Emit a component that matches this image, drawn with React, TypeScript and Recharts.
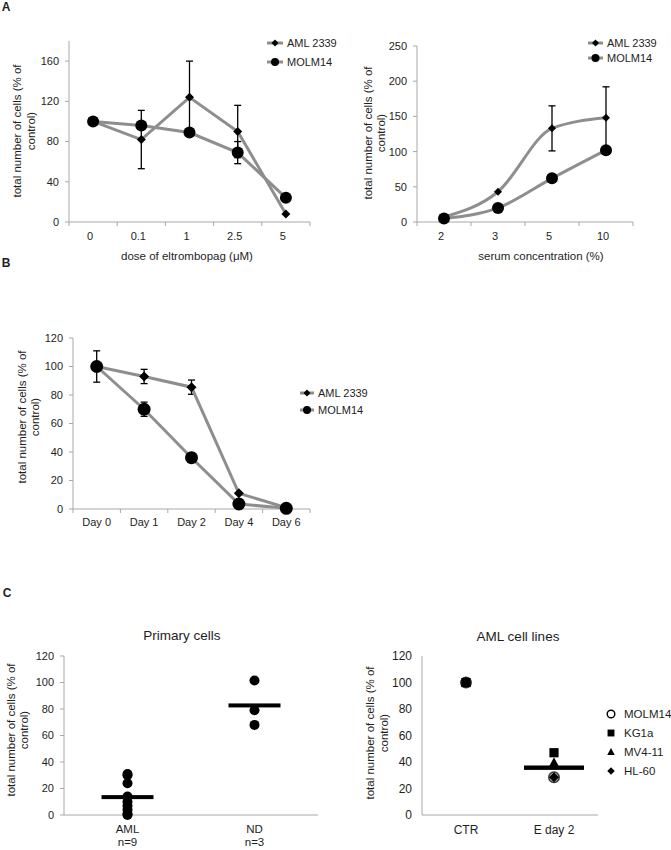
import React from "react";
import {
  LineChart,
  Line,
  XAxis,
  YAxis,
  ErrorBar,
  Legend,
  ScatterChart,
  Scatter,
} from "recharts";

const FONT = "'Liberation Sans', Arial, sans-serif";
const GREY = "#8e8e8e";
const AXIS = "#a8a8a8";
const INK = "#1e1e1e";

// A (left) - dose of eltrombopag
const doseLabels = ["0", "0.1", "1", "2.5", "5"];
const doseAml = [100, 82, 124, 90, 8];
const doseAmlErr = [0, 29, 36, 26, 0];
const doseMolm = [100, 96, 89, 69, 24];
const doseMolmErr = [0, 0, 0, 11, 0];

// A (right) - serum concentration
const serumLabels = ["2", "3", "5", "10"];
const serumAml = [7, 43, 133, 148];
const serumAmlErr = [0, 0, 32, 44];
const serumMolm = [5, 20, 62, 102];

// B - time course
const dayLabels = ["Day 0", "Day 1", "Day 2", "Day 4", "Day 6"];
const dayAml = [100, 93, 85.5, 11, 1];
const dayAmlErr = [11, 5, 5, 0, 0];
const dayMolm = [100, 70, 36, 3.5, 0.5];
const dayMolmErr = [0, 5, 0, 0, 0];

const lineSeries = ["AML 2339", "MOLM14"];

// C (left) - primary cells
const primaryGroups = ["AML", "ND"];
const primaryN = ["n=9", "n=3"];
const primaryAml = [31, 30, 24, 14, 10, 7, 4, 1, 0];
const primaryNd = [101.5, 79, 68];
const primaryMeans = [13.5, 82.7];

// C (right) - AML cell lines
const cellGroups = ["CTR", "E day 2"];
const cellLines = ["MOLM14", "KG1a", "MV4-11", "HL-60"];
const molm14 = [100, 28.5];
const kg1a = [100, 47];
const mv411 = [100, 39.5];
const hl60 = [100, 28.5];
const cellLineMean = 35.7;

const buildRows = (labels: string[], cols: Record<string, number[]>) =>
  labels.map((label, i) => {
    const row: Record<string, any> = { x: i + 0.5, label };
    Object.keys(cols).forEach((k) => (row[k] = cols[k][i]));
    return row;
  });

const halfTicks = (n: number) =>
  Array.from({ length: 2 * n + 1 }, (_, i) => i / 2);

const doseRows = buildRows(doseLabels, {
  aml: doseAml,
  amlErr: doseAmlErr,
  molm: doseMolm,
  molmErr: doseMolmErr,
});
const serumRows = buildRows(serumLabels, {
  aml: serumAml,
  amlErr: serumAmlErr,
  molm: serumMolm,
});
const dayRows = buildRows(dayLabels, {
  aml: dayAml,
  amlErr: dayAmlErr,
  molm: dayMolm,
  molmErr: dayMolmErr,
});

const groupPoints = (gi: number, vals: number[]) =>
  vals.map((y) => ({ x: gi + 0.5, y }));

// category labels sit between tick marks, like the original spreadsheet
const catTick =
  (labels: string[], sub: string[] | null, marks: boolean, dy: number, size = 11, dx = 0) =>
  (p: any) => {
    const v = p.payload.value;
    if (Number.isInteger(v)) {
      return marks ? (
        <line x1={p.x} x2={p.x} y1={p.y} y2={p.y + 4} stroke={AXIS} />
      ) : (
        <g />
      );
    }
    const i = Math.floor(v);
    const x = p.x + dx;
    return (
      <text
        x={x}
        y={p.y + dy}
        textAnchor="middle"
        fontSize={size}
        fill={INK}
        fontFamily={FONT}
      >
        <tspan x={x}>{labels[i]}</tspan>
        {sub && (
          <tspan x={x} dy={13}>
            {sub[i]}
          </tspan>
        )}
      </text>
    );
  };

const diamondPath = (cx: number, cy: number, s: number) =>
  `M${cx},${cy - s} L${cx + s},${cy} L${cx},${cy + s} L${cx - s},${cy} Z`;

const diamondDot = (s: number) => (p: any) =>
  <path key={`d${p.index}`} d={diamondPath(p.cx, p.cy, s)} fill="#000" />;

const circleDot = (r: number) => (p: any) =>
  <circle key={`c${p.index}`} cx={p.cx} cy={p.cy} r={r} fill="#000" />;

const yAxisProps = {
  width: 30,
  tickSize: 4,
  tickMargin: 6,
  stroke: AXIS,
  tick: { fontSize: 11, fill: INK, fontFamily: FONT },
  interval: 0 as const,
};

const LineLegend = ({ gap, lineW }: { gap: number; lineW: number }) => (
  <div style={{ fontFamily: FONT, fontSize: 11, color: INK, whiteSpace: "nowrap" }}>
    {lineSeries.map((name, i) => (
      <div
        key={name}
        style={{ display: "flex", alignItems: "center", height: gap }}
      >
        <svg width={lineW} height={12} style={{ marginRight: 4, flex: "none" }}>
          <line x1={0} x2={lineW} y1={6} y2={6} stroke={GREY} strokeWidth={3} />
          {i === 0 ? (
            <path d={diamondPath(lineW / 2, 6, 3.5)} fill="#000" />
          ) : (
            <circle cx={lineW / 2} cy={6} r={4} fill="#000" />
          )}
        </svg>
        <span>{name}</span>
      </div>
    ))}
  </div>
);

const marker = (name: string, cx: number, cy: number, k = 1) => {
  switch (name) {
    case "MOLM14":
      return (
        <circle cx={cx} cy={cy} r={5.2 * k} fill="#bdbdbd" stroke="#333" strokeWidth={1.5} />
      );
    case "KG1a":
      return <rect x={cx - 4.6 * k} y={cy - 4.6 * k} width={9.2 * k} height={9.2 * k} fill="#000" />;
    case "MV4-11":
      return (
        <path
          d={`M${cx},${cy - 5.5 * k} L${cx + 5 * k},${cy + 4 * k} L${cx - 5 * k},${cy + 4 * k} Z`}
          fill="#000"
        />
      );
    default:
      return <path d={diamondPath(cx, cy, 5 * k)} fill="#000" />;
  }
};

const CellLegend = () => (
  <div style={{ fontFamily: FONT, fontSize: 11.5, color: INK, whiteSpace: "nowrap" }}>
    {cellLines.map((name) => (
      <div key={name} style={{ display: "flex", alignItems: "center", height: 19 }}>
        <svg width={12} height={12} style={{ marginRight: 7, flex: "none" }}>
          {name === "MOLM14" ? (
            <circle cx={6} cy={6} r={3.8} fill="#fff" stroke="#000" strokeWidth={1.4} />
          ) : (
            marker(name, 6, 6, 0.75)
          )}
        </svg>
        <span>{name}</span>
      </div>
    ))}
  </div>
);

const VLabel = ({ cx, cy, gap = 14 }: { cx: number; cy: number; gap?: number }) => (
  <div
    style={{
      position: "absolute",
      left: cx,
      top: cy,
      transform: "translate(-50%, -50%) rotate(-90deg)",
      fontFamily: FONT,
      fontSize: 11.5,
      lineHeight: `${gap}px`,
      color: INK,
      textAlign: "center",
      whiteSpace: "nowrap",
    }}
  >
    total number of cells (% of
    <br />
    control)
  </div>
);

const Text = ({
  x,
  y,
  size = 11.5,
  bold = false,
  children,
}: {
  x: number;
  y: number;
  size?: number;
  bold?: boolean;
  children: React.ReactNode;
}) => (
  <div
    style={{
      position: "absolute",
      left: x,
      top: y,
      transform: "translate(-50%, -50%)",
      fontFamily: FONT,
      fontSize: size,
      fontWeight: bold ? 700 : 400,
      color: INK,
      whiteSpace: "nowrap",
      lineHeight: 1,
    }}
  >
    {children}
  </div>
);

const abs = (left: number, top: number): React.CSSProperties => ({
  position: "absolute",
  left,
  top,
});

const legendBox = (left: number, top: number) => ({
  left,
  top,
  width: 110,
  whiteSpace: "nowrap" as const,
});

export default function App() {
  return (
    <div style={{ position: "relative", width: 671, height: 850, background: "#fff" }}>
      <style>{`body{margin:0}`}</style>

      <Text x={6} y={7} size={12} bold>A</Text>
      <Text x={6} y={263} size={12} bold>B</Text>
      <Text x={7} y={593} size={12} bold>C</Text>

      {/* A left */}
      <div style={abs(0, 0)}>
        <LineChart
          width={330}
          height={255}
          data={doseRows}
          margin={{ top: 41, right: 20, bottom: 0, left: 39 }}
        >
          <XAxis
            type="number"
            dataKey="x"
            domain={[0, doseLabels.length]}
            ticks={halfTicks(doseLabels.length)}
            interval={0}
            tickSize={0}
            tickMargin={0}
            tickLine={false}
            stroke={AXIS}
            height={33}
            tick={catTick(doseLabels, null, true, 18, 11, -3)}
          />
          <YAxis {...yAxisProps} domain={[0, 180]} ticks={[0, 40, 80, 120, 160]} />
          <Legend
            layout="vertical"
            align="center"
            verticalAlign="middle"
            wrapperStyle={legendBox(267, 33)}
            content={() => <LineLegend gap={19} lineW={16} />}
          />
          <Line
            dataKey="aml"
            name="AML 2339"
            stroke={GREY}
            strokeWidth={3}
            dot={diamondDot(4.5)}
            isAnimationActive={false}
          >
            <ErrorBar dataKey="amlErr" width={3.5} stroke="#000" strokeWidth={1.3} direction="y" />
          </Line>
          <Line
            dataKey="molm"
            name="MOLM14"
            stroke={GREY}
            strokeWidth={3}
            dot={circleDot(6)}
            isAnimationActive={false}
          >
            <ErrorBar dataKey="molmErr" width={3.5} stroke="#000" strokeWidth={1.3} direction="y" />
          </Line>
        </LineChart>
      </div>
      <VLabel cx={24} cy={131} />
      <Text x={187} y={257}>dose of eltrombopag (μM)</Text>

      {/* A right */}
      <div style={abs(330, 0)}>
        <LineChart
          width={341}
          height={255}
          data={serumRows}
          margin={{ top: 46, right: 38, bottom: 0, left: 57 }}
        >
          <XAxis
            type="number"
            dataKey="x"
            domain={[0, serumLabels.length]}
            ticks={halfTicks(serumLabels.length)}
            interval={0}
            tickSize={0}
            tickMargin={0}
            tickLine={false}
            stroke={AXIS}
            height={33}
            tick={catTick(serumLabels, null, true, 18, 11, -3)}
          />
          <YAxis {...yAxisProps} domain={[0, 250]} ticks={[0, 50, 100, 150, 200, 250]} />
          <Legend
            layout="vertical"
            align="center"
            verticalAlign="middle"
            wrapperStyle={legendBox(258, 36)}
            content={() => <LineLegend gap={14.6} lineW={15} />}
          />
          <Line
            type="monotone"
            dataKey="aml"
            name="AML 2339"
            stroke={GREY}
            strokeWidth={3}
            dot={diamondDot(4)}
            isAnimationActive={false}
          >
            <ErrorBar dataKey="amlErr" width={3.5} stroke="#000" strokeWidth={1.3} direction="y" />
          </Line>
          <Line
            type="monotone"
            dataKey="molm"
            name="MOLM14"
            stroke={GREY}
            strokeWidth={3}
            dot={circleDot(6)}
            isAnimationActive={false}
          />
        </LineChart>
      </div>
      <VLabel cx={375} cy={133} gap={13} />
      <Text x={541} y={257}>serum concentration (%)</Text>

      {/* B */}
      <div style={abs(0, 290)}>
        <LineChart
          width={330}
          height={250}
          data={dayRows}
          margin={{ top: 48, right: 20, bottom: 0, left: 43 }}
        >
          <XAxis
            type="number"
            dataKey="x"
            domain={[0, dayLabels.length]}
            ticks={halfTicks(dayLabels.length)}
            interval={0}
            tickSize={0}
            tickMargin={0}
            tickLine={false}
            stroke={AXIS}
            height={31}
            tick={catTick(dayLabels, null, true, 17)}
          />
          <YAxis {...yAxisProps} domain={[0, 120]} ticks={[0, 20, 40, 60, 80, 100, 120]} />
          <Legend
            layout="vertical"
            align="center"
            verticalAlign="middle"
            wrapperStyle={legendBox(300, 94)}
            content={() => <LineLegend gap={17} lineW={14} />}
          />
          <Line
            dataKey="aml"
            name="AML 2339"
            stroke={GREY}
            strokeWidth={3}
            dot={diamondDot(5)}
            isAnimationActive={false}
          >
            <ErrorBar dataKey="amlErr" width={3.5} stroke="#000" strokeWidth={1.3} direction="y" />
          </Line>
          <Line
            dataKey="molm"
            name="MOLM14"
            stroke={GREY}
            strokeWidth={3}
            dot={circleDot(6.5)}
            isAnimationActive={false}
          >
            <ErrorBar dataKey="molmErr" width={3.5} stroke="#000" strokeWidth={1.3} direction="y" />
          </Line>
        </LineChart>
      </div>
      <VLabel cx={29} cy={417} gap={13} />

      {/* C left */}
      <Text x={182} y={636} size={13.5}>Primary cells</Text>
      <div style={abs(0, 620)}>
        <ScatterChart width={330} height={230} margin={{ top: 36, right: 12, bottom: 0, left: 34 }}>
          <XAxis
            type="number"
            dataKey="x"
            domain={[0, 2]}
            ticks={[0.5, 1.5]}
            interval={0}
            tickSize={0}
            tickMargin={0}
            tickLine={false}
            stroke={AXIS}
            height={35}
            tick={catTick(primaryGroups, primaryN, false, 18, 11.5)}
          />
          <YAxis
            {...yAxisProps}
            type="number"
            dataKey="y"
            domain={[0, 120]}
            ticks={[0, 20, 40, 60, 80, 100, 120]}
          />
          <Scatter
            name="AML"
            data={groupPoints(0, primaryAml)}
            isAnimationActive={false}
            shape={(p: any) => <circle cx={p.cx} cy={p.cy} r={5} fill="#000" />}
          />
          <Scatter
            name="ND"
            data={groupPoints(1, primaryNd)}
            isAnimationActive={false}
            shape={(p: any) => <circle cx={p.cx} cy={p.cy} r={5} fill="#000" />}
          />
          <Scatter
            name="mean"
            data={primaryMeans.map((y, i) => ({ x: i + 0.5, y }))}
            isAnimationActive={false}
            shape={(p: any) => (
              <rect x={p.cx - 26} y={p.cy - 2} width={52} height={4} fill="#000" />
            )}
          />
        </ScatterChart>
      </div>
      <VLabel cx={18} cy={730} gap={13} />

      {/* C right */}
      <Text x={518} y={637} size={13.5}>AML cell lines</Text>
      <div style={abs(330, 620)}>
        <ScatterChart width={341} height={230} margin={{ top: 36, right: 73, bottom: 0, left: 62 }}>
          <XAxis
            type="number"
            dataKey="x"
            domain={[0, 2]}
            ticks={[0.5, 1.5]}
            interval={0}
            tickSize={0}
            tickMargin={0}
            tickLine={false}
            stroke={AXIS}
            height={35}
            tick={catTick(cellGroups, null, false, 19, 12)}
          />
          <YAxis
            {...yAxisProps}
            type="number"
            dataKey="y"
            domain={[0, 120]}
            ticks={[0, 20, 40, 60, 80, 100, 120]}
            tickLine={false}
            tick={{ fontSize: 12, fill: INK, fontFamily: FONT }}
          />
          <Legend
            layout="vertical"
            align="center"
            verticalAlign="middle"
            wrapperStyle={legendBox(275, 84)}
            content={() => <CellLegend />}
          />
          {[molm14, kg1a, mv411].map((vals, s) => (
            <Scatter
              key={cellLines[s]}
              name={cellLines[s]}
              data={vals.map((y, i) => ({ x: i + 0.5, y }))}
              isAnimationActive={false}
              shape={(p: any) => marker(cellLines[s], p.cx, p.cy)}
            />
          ))}
          <Scatter
            name="mean"
            data={[{ x: 1.5, y: cellLineMean }]}
            isAnimationActive={false}
            shape={(p: any) => (
              <rect x={p.cx - 30} y={p.cy - 2.2} width={60} height={4.4} fill="#000" />
            )}
          />
          <Scatter
            name={cellLines[3]}
            data={hl60.map((y, i) => ({ x: i + 0.5, y }))}
            isAnimationActive={false}
            shape={(p: any) => marker(cellLines[3], p.cx, p.cy)}
          />
        </ScatterChart>
      </div>
      <VLabel cx={377} cy={733} gap={14} />
    </div>
  );
}
